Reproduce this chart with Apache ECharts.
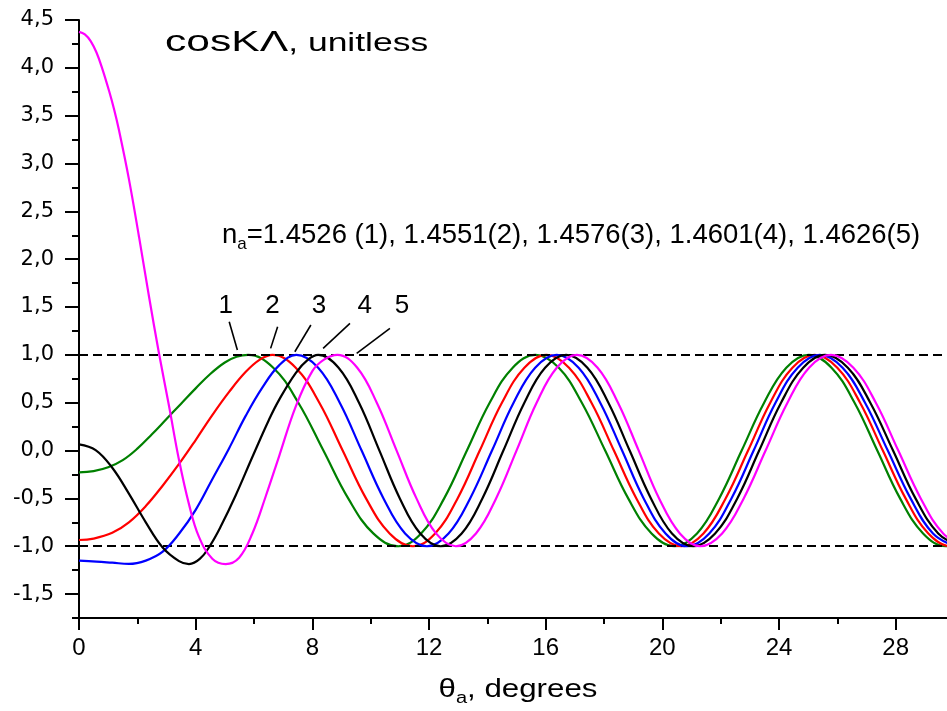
<!DOCTYPE html>
<html>
<head>
<meta charset="utf-8">
<script src="https://cdn.jsdelivr.net/npm/echarts@6/dist/echarts.min.js"></script>
<style>
html,body{margin:0;padding:0;background:#fff;}
#chart{width:947px;height:711px;}
</style>
</head>
<body>
<div id="chart"></div>
<script>
// ---- tick values ----
const xMajorTicks = [0, 4, 8, 12, 16, 20, 24, 28];
const xMinorTicks = [2, 6, 10, 14, 18, 22, 26, 30];
const yMajorTicks = [-1.5, -1.0, -0.5, 0.0, 0.5, 1.0, 1.5, 2.0, 2.5, 3.0, 3.5, 4.0, 4.5];
const yMinorTicks = [-1.75, -1.25, -0.75, -0.25, 0.25, 0.75, 1.25, 1.75, 2.25, 2.75, 3.25, 3.75, 4.25];
const guideLevels = [1, -1];

// ---- series: [theta (deg), cosKΛ] ----
const curveNames = ['1', '2', '3', '4', '5'];
const curve1 = [[0,-0.228],[0.5,-0.215],[1.0,-0.175],[1.5,-0.1],[2.0,0.02],[2.5,0.17],[3.0,0.33],[3.5,0.49],[4.0,0.65],[4.5,0.8],[5.0,0.92],[5.4,0.98],[5.8,1.0],
 [6.66,0.866],[7.52,0.5],[8.38,0],[9.23,-0.5],[10.09,-0.866],[10.95,-1],
 [11.73,-0.866],[12.52,-0.5],[13.3,0],[14.08,0.5],[14.87,0.866],[15.65,1],
 [16.45,0.866],[17.24,0.5],[18.04,0],[18.83,-0.5],[19.63,-0.866],[20.42,-1],
 [21.19,-0.866],[21.95,-0.5],[22.72,0],[23.49,0.5],[24.25,0.866],[25.02,1],
 [25.8,0.866],[26.59,0.5],[27.37,0],[28.15,-0.5],[28.94,-0.866],[29.72,-1],[30.5,-0.866]];
const curve2 = [[0,-0.935],[0.5,-0.92],[1.14,-0.86],[1.71,-0.75],[2.29,-0.58],[2.86,-0.37],[3.43,-0.14],[4.0,0.11],[4.57,0.37],[5.14,0.61],[5.71,0.82],[6.2,0.95],[6.63,1],
 [7.43,0.866],[8.24,0.5],[9.04,0],[9.84,-0.5],[10.65,-0.866],[11.45,-1],
 [12.21,-0.866],[12.98,-0.5],[13.74,0],[14.5,0.5],[15.27,0.866],[16.03,1],
 [16.8,0.866],[17.57,0.5],[18.34,0],[19.11,-0.5],[19.88,-0.866],[20.65,-1],
 [21.41,-0.866],[22.17,-0.5],[22.94,0],[23.7,0.5],[24.46,0.866],[25.22,1],
 [26.0,0.866],[26.78,0.5],[27.56,0],[28.34,-0.5],[29.12,-0.866],[29.9,-1],[30.7,-0.866]];
const curve3 = [[0,-1.151],[0.6,-1.16],[1.14,-1.172],[1.71,-1.185],[2.29,-1.15],[2.86,-1.06],[3.43,-0.87],[4.0,-0.62],[4.57,-0.3],[5.14,0.02],[5.71,0.36],[6.29,0.66],[6.86,0.89],[7.45,1],
 [8.2,0.866],[8.94,0.5],[9.69,0],[10.44,-0.5],[11.18,-0.866],[11.93,-1],
 [12.67,-0.866],[13.41,-0.5],[14.16,0],[14.9,0.5],[15.64,0.866],[16.38,1],
 [17.13,0.866],[17.87,0.5],[18.62,0],[19.36,-0.5],[20.11,-0.866],[20.85,-1],
 [21.61,-0.866],[22.37,-0.5],[23.13,0],[23.88,0.5],[24.64,0.866],[25.4,1],
 [26.18,0.866],[26.95,0.5],[27.73,0],[28.51,-0.5],[29.28,-0.866],[30.06,-1]];
const curve4 = [[0,0.065],[0.57,0.005],[1.14,-0.18],[1.71,-0.45],[2.29,-0.75],[2.86,-1.01],[3.43,-1.155],[3.77,-1.186],[4.15,-1.13],[4.5,-0.99],[4.85,-0.8],[5.37,-0.47],[5.94,-0.07],[6.51,0.32],[6.86,0.53],[7.43,0.81],[7.85,0.95],[8.2,1],
 [8.9,0.866],[9.6,0.5],[10.3,0],[11.0,-0.5],[11.7,-0.866],[12.4,-1],
 [13.12,-0.866],[13.83,-0.5],[14.55,0],[15.27,0.5],[15.98,0.866],[16.7,1],
 [17.43,0.866],[18.15,0.5],[18.88,0],[19.61,-0.5],[20.33,-0.866],[21.06,-1],
 [21.81,-0.866],[22.57,-0.5],[23.32,0],[24.07,0.5],[24.83,0.866],[25.58,1],
 [26.36,0.866],[27.13,0.5],[27.91,0],[28.68,-0.5],[29.46,-0.866],[30.23,-1]];
const curve5 = [[0,4.376],[0.2,4.35],[0.4,4.28],[0.6,4.16],[0.8,3.99],[1.03,3.76],[1.2,3.57],[1.37,3.35],[1.71,2.84],[2.06,2.23],[2.4,1.61],[2.74,1.02],[3.09,0.46],[3.43,-0.1],[3.77,-0.56],[4.11,-0.9],[4.57,-1.13],[5.03,-1.186],[5.49,-1.12],[5.94,-0.87],[6.4,-0.48],[6.86,-0.06],[7.43,0.46],[8.0,0.83],[8.4,0.95],[8.86,1],
 [9.54,0.866],[10.21,0.5],[10.89,0],[11.57,-0.5],[12.24,-0.866],[12.92,-1],
 [13.61,-0.866],[14.3,-0.5],[15.0,0],[15.69,0.5],[16.38,0.866],[17.07,1],
 [17.78,0.866],[18.48,0.5],[19.19,0],[19.89,-0.5],[20.6,-0.866],[21.3,-1],
 [22.05,-0.866],[22.79,-0.5],[23.54,0],[24.29,0.5],[25.03,0.866],[25.78,1],
 [26.55,0.866],[27.32,0.5],[28.09,0],[28.86,-0.5],[29.63,-0.866],[30.4,-1]];
const curves = [curve1, curve2, curve3, curve4, curve5];

// ---- curve number labels and their pointer lines (data coords) ----
const labelAnchors = [[5.03,1.51],[6.63,1.51],[8.23,1.51],[9.8,1.51],[11.07,1.51]];
const pointerStarts = [[5.15,1.346],[6.81,1.294],[7.95,1.312],[9.29,1.33],[10.66,1.277]];
const pointerEnds   = [[5.43,1.05],[6.57,1.068],[7.4,1.033],[8.37,1.068],[9.52,1.016]];

const colors = ['#008000', '#ff0000', '#0000ff', '#000000', '#ff00ff'];
const SANS = '"Liberation Sans", Arial, sans-serif';

const chart = echarts.init(document.getElementById('chart'), null, {renderer: 'canvas'});

const fmtY = v => v.toFixed(1).replace('.', ',');

const markLineData = guideLevels.map(v => ({
  yAxis: v,
  lineStyle: {type: [9, 5], color: '#000', width: 1.9}
}));
pointerStarts.forEach((s, i) => {
  markLineData.push([
    {coord: s, lineStyle: {type: 'solid', color: '#000', width: 1.6}},
    {coord: pointerEnds[i]}
  ]);
});

const series = curves.map((c, i) => ({
  name: curveNames[i],
  type: 'line',
  data: c,
  xAxisIndex: 0,
  yAxisIndex: 0,
  showSymbol: false,
  symbol: 'none',
  smooth: 0.4,
  clip: true,
  lineStyle: {color: colors[i], width: 2.2},
  itemStyle: {color: colors[i]},
  z: 3 + i
}));
series[0].markLine = {
  silent: true,
  symbol: ['none', 'none'],
  label: {show: false},
  animation: false,
  data: markLineData
};
series[0].markPoint = {
  silent: true,
  symbol: 'circle',
  symbolSize: 1,
  itemStyle: {color: 'rgba(0,0,0,0)'},
  label: {show: true, position: 'inside', color: '#000', fontSize: 26, fontFamily: SANS},
  data: labelAnchors.map((a, i) => ({coord: a, label: {formatter: curveNames[i]}}))
};

const option = {
  animation: false,
  backgroundColor: '#fff',
  grid: {left: 79, right: -7, top: 20, bottom: 93, containLabel: false, outerBoundsMode: 'none'},
  xAxis: [{
    type: 'value', min: 0, max: 30, position: 'bottom',
    axisLine: {show: true, onZero: false, lineStyle: {color: '#000', width: 2}},
    axisTick: {show: true, length: 12, lineStyle: {color: '#000', width: 2}, customValues: xMajorTicks},
    axisLabel: {show: true, customValues: xMajorTicks, color: '#000', fontSize: 24, fontFamily: SANS, margin: 18},
    splitLine: {show: false}
  }, {
    type: 'value', min: 0, max: 30, position: 'bottom', offset: 0,
    axisLine: {show: false, onZero: false},
    axisTick: {show: true, length: 6, lineStyle: {color: '#000', width: 2}, customValues: xMinorTicks},
    axisLabel: {show: false},
    splitLine: {show: false}
  }],
  yAxis: [{
    type: 'value', min: -1.75, max: 4.5, position: 'left',
    axisLine: {show: true, onZero: false, lineStyle: {color: '#000', width: 2}},
    axisTick: {show: true, length: 14, lineStyle: {color: '#000', width: 2}, customValues: yMajorTicks},
    axisLabel: {show: true, customValues: yMajorTicks, formatter: fmtY, color: '#000', fontSize: 21, fontFamily: '"DejaVu Sans", sans-serif', margin: 25},
    splitLine: {show: false}
  }, {
    type: 'value', min: -1.75, max: 4.5, position: 'left', offset: 0,
    axisLine: {show: false, onZero: false},
    axisTick: {show: true, length: 7, lineStyle: {color: '#000', width: 2}, customValues: yMinorTicks},
    axisLabel: {show: false},
    splitLine: {show: false}
  }],
  graphic: [
    {
      type: 'text', x: 165, y: 41, scaleX: 1.42, scaleY: 1,
      style: {
        text: '{a|cosKΛ}{b|, unitless}',
        verticalAlign: 'middle', textVerticalAlign: 'middle', align: 'left', textAlign: 'left',
        rich: {
          a: {fontSize: 30, fontFamily: SANS, fill: '#000', color: '#000', verticalAlign: 'bottom', lineHeight: 34},
          b: {fontSize: 25, fontFamily: SANS, fill: '#000', color: '#000', verticalAlign: 'bottom', lineHeight: 34, padding: [0, 0, 1, 0]}
        }
      }
    },
    {
      type: 'text', x: 222, y: 235,
      style: {
        text: '{n|n}{s|a}{n|=1.4526 (1), 1.4551(2), 1.4576(3), 1.4601(4), 1.4626(5)}',
        verticalAlign: 'middle', textVerticalAlign: 'middle', align: 'left', textAlign: 'left',
        rich: {
          n: {fontSize: 27.5, fontFamily: SANS, fill: '#000', color: '#000', lineHeight: 42, verticalAlign: 'middle'},
          s: {fontSize: 17, fontFamily: SANS, fill: '#000', color: '#000', lineHeight: 42, verticalAlign: 'bottom', padding: [0, 0, 3, 0]}
        }
      }
    },
    {
      type: 'text', x: 518, y: 690, scaleX: 1.25, scaleY: 1,
      style: {
        text: '{n|θ}{s|a}{n|, degrees}',
        verticalAlign: 'middle', textVerticalAlign: 'middle', align: 'center', textAlign: 'center',
        rich: {
          n: {fontSize: 25, fontFamily: SANS, fill: '#000', color: '#000', lineHeight: 38, verticalAlign: 'middle'},
          s: {fontSize: 16, fontFamily: SANS, fill: '#000', color: '#000', lineHeight: 38, verticalAlign: 'bottom', padding: [0, 0, 2, 0]}
        }
      }
    }
  ],
  series: series
};
chart.setOption(option);
</script>
</body>
</html>
